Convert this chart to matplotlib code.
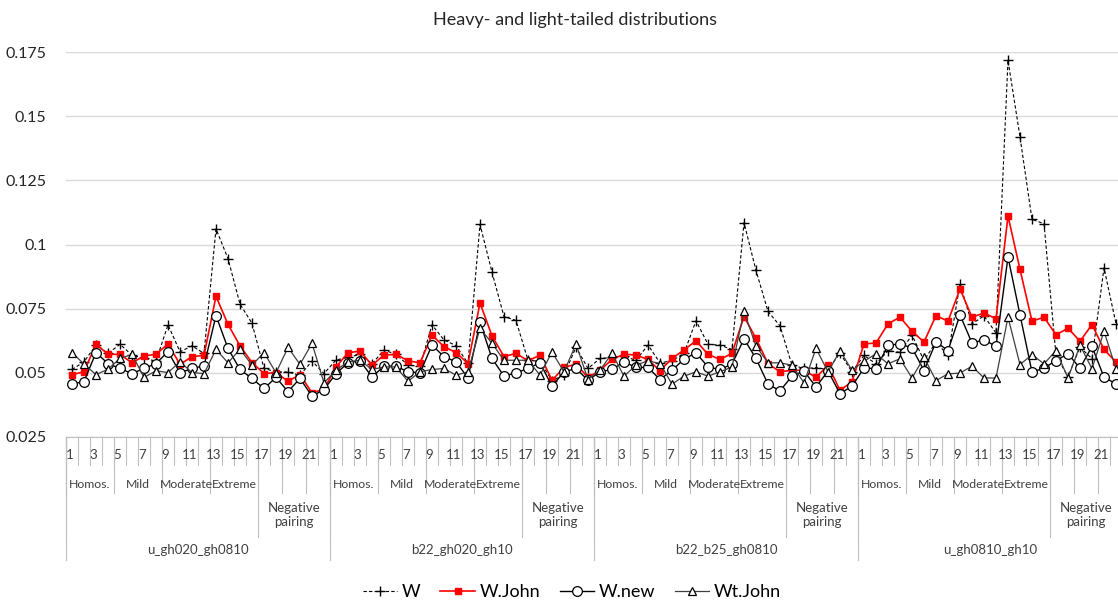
import matplotlib.pyplot as plt
import numpy as np

plt.rcParams['font.family'] = ['Lato', 'DejaVu Sans']

# four simulation settings, 22 scenarios each
group_names = ['u_gh020_gh0810', 'b22_gh020_gh10', 'b22_b25_gh0810', 'u_gh0810_gh10']
num_labels = ['1', '', '3', '', '5', '', '7', '', '9', '', '11', '',
              '13', '', '15', '', '17', '', '19', '', '21', '']
sub_labels = ['Homos.', 'Mild', 'Moderate', 'Extreme', '', '', '']
sub_sizes = [4, 4, 4, 4, 2, 2, 2]
tier3_labels = ['', 'Negative\npairing']
tier3_sizes = [16, 6]

w = [0.0513, 0.0543, 0.0608, 0.0576, 0.0611, 0.0569, 0.0556, 0.0546, 0.0687, 0.0582, 0.0605,
     0.0576, 0.1061, 0.0945, 0.0768, 0.0693, 0.0517, 0.0504, 0.0503, 0.0490, 0.0546, 0.0497,
     0.0550, 0.0560, 0.0572, 0.0535, 0.0589, 0.0572, 0.0530, 0.0525, 0.0687, 0.0628, 0.0606,
     0.0537, 0.1078, 0.0892, 0.0719, 0.0704, 0.0549, 0.0545, 0.0470, 0.0491, 0.0600, 0.0517,
     0.0556, 0.0560, 0.0565, 0.0549, 0.0608, 0.0539, 0.0547, 0.0576, 0.0703, 0.0611, 0.0608,
     0.0591, 0.1085, 0.0899, 0.0739, 0.0683, 0.0530, 0.0517, 0.0520, 0.0513, 0.0576, 0.0504,
     0.0568, 0.0535, 0.0586, 0.0580, 0.0647, 0.0548, 0.0620, 0.0568, 0.0847, 0.0691, 0.0722,
     0.0655, 0.1718, 0.1419, 0.1098, 0.1081, 0.0568, 0.0485, 0.0600, 0.0555, 0.0909, 0.0691]
w_john = [0.0493, 0.0504, 0.0612, 0.0572, 0.0572, 0.0539, 0.0566, 0.0572, 0.0613, 0.0533, 0.0563,
          0.0568, 0.0798, 0.0689, 0.0605, 0.0540, 0.0497, 0.0501, 0.0467, 0.0493, 0.0422, 0.0436,
          0.0523, 0.0578, 0.0585, 0.0530, 0.0569, 0.0572, 0.0547, 0.0539, 0.0647, 0.0602, 0.0579,
          0.0536, 0.0772, 0.0644, 0.0563, 0.0576, 0.0547, 0.0569, 0.0471, 0.0521, 0.0534, 0.0482,
          0.0510, 0.0552, 0.0573, 0.0569, 0.0552, 0.0508, 0.0556, 0.0589, 0.0625, 0.0572, 0.0552,
          0.0576, 0.0719, 0.0634, 0.0536, 0.0504, 0.0510, 0.0510, 0.0482, 0.0530, 0.0432, 0.0465,
          0.0613, 0.0616, 0.0691, 0.0717, 0.0662, 0.0620, 0.0723, 0.0701, 0.0827, 0.0717, 0.0733,
          0.0711, 0.1111, 0.0903, 0.0701, 0.0717, 0.0648, 0.0674, 0.0623, 0.0688, 0.0591, 0.0542]
w_new = [0.0456, 0.0466, 0.0579, 0.0536, 0.0517, 0.0497, 0.0517, 0.0536, 0.0583, 0.0500, 0.0517,
         0.0527, 0.0723, 0.0595, 0.0513, 0.0478, 0.0439, 0.0482, 0.0427, 0.0478, 0.0409, 0.0435,
         0.0497, 0.0539, 0.0547, 0.0484, 0.0526, 0.0526, 0.0504, 0.0500, 0.0608, 0.0563, 0.0543,
         0.0480, 0.0697, 0.0556, 0.0487, 0.0500, 0.0517, 0.0539, 0.0448, 0.0504, 0.0517, 0.0471,
         0.0504, 0.0513, 0.0543, 0.0521, 0.0521, 0.0474, 0.0510, 0.0553, 0.0578, 0.0523, 0.0513,
         0.0534, 0.0632, 0.0556, 0.0456, 0.0430, 0.0487, 0.0507, 0.0445, 0.0507, 0.0419, 0.0448,
         0.0519, 0.0516, 0.0607, 0.0613, 0.0597, 0.0509, 0.0620, 0.0587, 0.0726, 0.0616, 0.0629,
         0.0603, 0.0951, 0.0726, 0.0503, 0.0518, 0.0548, 0.0574, 0.0518, 0.0603, 0.0483, 0.0457]
wt_john = [0.0579, 0.0534, 0.0493, 0.0514, 0.0556, 0.0572, 0.0482, 0.0508, 0.0501, 0.0543, 0.0501,
           0.0497, 0.0591, 0.0539, 0.0592, 0.0530, 0.0579, 0.0500, 0.0599, 0.0533, 0.0615, 0.0461,
           0.0510, 0.0543, 0.0549, 0.0513, 0.0523, 0.0523, 0.0467, 0.0504, 0.0513, 0.0517, 0.0491,
           0.0504, 0.0674, 0.0615, 0.0549, 0.0549, 0.0549, 0.0491, 0.0581, 0.0504, 0.0612, 0.0474,
           0.0510, 0.0576, 0.0487, 0.0530, 0.0547, 0.0536, 0.0456, 0.0487, 0.0504, 0.0487, 0.0504,
           0.0523, 0.0739, 0.0604, 0.0539, 0.0539, 0.0530, 0.0461, 0.0595, 0.0504, 0.0586, 0.0510,
           0.0545, 0.0574, 0.0535, 0.0555, 0.0480, 0.0560, 0.0470, 0.0496, 0.0499, 0.0526, 0.0480,
           0.0480, 0.0717, 0.0532, 0.0571, 0.0535, 0.0587, 0.0480, 0.0607, 0.0516, 0.0662, 0.0516]

W, H = 1118, 601
fig = plt.figure(figsize=(W / 100, H / 100), dpi=100)
ax = fig.add_axes([66 / W, 1 - 437 / H, 1056 / W, 385 / H])
ax_h = 385.0

x = np.arange(len(w))
ax.plot(x, w, color='black', lw=0.8, dashes=(3, 2), marker='+', ms=7, mew=1.0, label='W')
ax.plot(x, w_john, color='#ff0000', lw=1.2, marker='s', ms=4, mfc='#ff0000', mec='#ff0000', label='W.John')
ax.plot(x, w_new, color='black', lw=1.0, marker='o', ms=7, mfc='white', mec='black', mew=0.9, label='W.new')
ax.plot(x, wt_john, color='#404040', lw=0.9, marker='^', ms=5.5, mfc='white', mec='black', mew=0.9, label='Wt.John')

ax.set_xlim(-0.5, len(w) - 0.5)
ax.set_ylim(0.025, 0.175)
yt = [0.025, 0.05, 0.075, 0.1, 0.125, 0.15, 0.175]
ax.set_yticks(yt)
ax.set_yticklabels(['0.025', '0.05', '0.075', '0.1', '0.125', '0.15', '0.175'], fontsize=11.5, color='#262626')
ax.tick_params(axis='y', length=0, pad=14)
ax.set_xticks([])
ax.grid(axis='y', color='#d9d9d9', lw=1)
ax.set_axisbelow(True)
for s in ['top', 'right', 'left']:
    ax.spines[s].set_visible(False)
ax.spines['bottom'].set_color('#bfbfbf')

# multi-level category axis
tr = ax.get_xaxis_transform()
lc = '#bfbfbf'
txt = dict(transform=tr, ha='center', va='center', fontsize=9.5, color='#404040', clip_on=False)

def vline(xb, depth):
    ax.plot([xb, xb], [0, -depth / ax_h], transform=tr, color=lc, lw=0.8, clip_on=False)

for g, name in enumerate(group_names):
    start = g * 22
    for k in range(22):
        vline(start + k - 0.5, 28)
        ax.text(start + k - 0.2, -18 / ax_h, num_labels[k], **txt)
    pos = start
    for lab, n in zip(sub_labels, sub_sizes):
        vline(pos - 0.5, 56)
        ax.text(pos + n / 2 - 0.5, -47 / ax_h, lab, **dict(txt, fontsize=8.8))
        pos += n
    pos = start
    for lab, n in zip(tier3_labels, tier3_sizes):
        vline(pos - 0.5, 100)
        ax.text(pos + n / 2 - 0.5, -78 / ax_h, lab, linespacing=1.3, **txt)
        pos += n
    vline(start - 0.5, 123)
    ax.text(start + 10.5, -113 / ax_h, name, **txt)

fig.text(575 / W, 1 - 20 / H, 'Heavy- and light-tailed distributions', ha='center', va='center',
         fontsize=13, color='#262626')
fig.legend(loc='center', bbox_to_anchor=(572 / W, 1 - 592 / H), ncol=4, frameon=False,
           fontsize=13, handlelength=1.9, handletextpad=0.25, columnspacing=1.1)

plt.savefig('out.png')
